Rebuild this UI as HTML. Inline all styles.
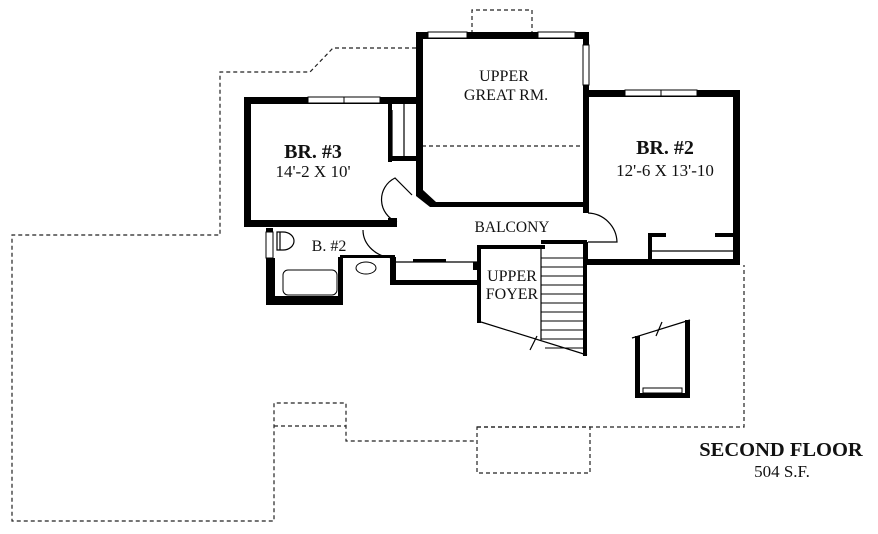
<!DOCTYPE html>
<html><head><meta charset="utf-8"><style>
html,body{margin:0;padding:0;background:#fff;}
svg{display:block;}
text{font-family:"Liberation Serif",serif;fill:#111;}
</style></head><body>
<svg width="878" height="534" viewBox="0 0 878 534" xmlns="http://www.w3.org/2000/svg">
<g fill="none" stroke="#222" stroke-width="1.2" stroke-dasharray="4,3">
<polyline points="416,48 333,48 310,72 220,72 220,235 12,235 12,521 274,521 274,403 346,403 346,441 477,441"/>
<line x1="274" y1="426" x2="346" y2="426"/>
<polyline points="477,427 744,427 744,265"/>
<rect x="477" y="427" width="113" height="46"/>
<polyline points="472,34 472,10 532,10 532,34"/>
<line x1="422" y1="146" x2="583" y2="146"/>
</g>
<g fill="#000">
<rect x="416" y="32" width="7" height="163"/>
<rect x="416" y="32" width="172" height="7"/>
<rect x="583" y="32" width="6" height="181"/>
<rect x="432" y="202" width="156" height="5"/>
<polygon points="416,190 423,190 436,202 436,207 430,207 416,196"/>
<rect x="244" y="97" width="7" height="130"/>
<rect x="244" y="97" width="172" height="7"/>
<rect x="244" y="220" width="153" height="7"/>
<rect x="388" y="104" width="4" height="58"/>
<rect x="388" y="156" width="28" height="5"/>
<rect x="583" y="90" width="157" height="7"/>
<rect x="733" y="90" width="7" height="175"/>
<rect x="583" y="259" width="157" height="6"/>
<rect x="583" y="242" width="5" height="23"/>
<rect x="648" y="233" width="4" height="27"/>
<rect x="648" y="233" width="18" height="4"/>
<rect x="715" y="233" width="18" height="4"/>
<rect x="541" y="240" width="42" height="4"/>
<rect x="477" y="245" width="4" height="78"/>
<rect x="477" y="245" width="68" height="4"/>
<rect x="583" y="240" width="4" height="116"/>
<rect x="266" y="228" width="7" height="30"/>
<rect x="266" y="258" width="9" height="47"/>
<rect x="266" y="296" width="76" height="9"/>
<rect x="338" y="257" width="5" height="48"/>
<rect x="390" y="257" width="6" height="25"/>
<rect x="390" y="280" width="87" height="5"/>
<rect x="340" y="255" width="55" height="3"/>
<rect x="473" y="262" width="8" height="8"/>
<rect x="413" y="259" width="33" height="3"/>
<rect x="388" y="218" width="9" height="9"/>
<rect x="635" y="336" width="5" height="62"/>
<rect x="685" y="320" width="5" height="78"/>
<rect x="635" y="393" width="55" height="5"/>
</g>
<g fill="#fff" stroke="#000" stroke-width="1">
<rect x="308" y="97" width="72" height="6"/><line x1="344" y1="97" x2="344" y2="103"/>
<rect x="428" y="32" width="39" height="6"/>
<rect x="538" y="32" width="37" height="6"/>
<rect x="583" y="45" width="6" height="40"/>
<rect x="625" y="90" width="72" height="6"/><line x1="661" y1="90" x2="661" y2="96"/>
<rect x="283" y="270" width="54" height="25" rx="5"/>
<ellipse cx="366" cy="268" rx="10" ry="6"/>
<rect x="266" y="232" width="7" height="26"/>
<rect x="643" y="388" width="39" height="5"/>
</g>
<g fill="none" stroke="#000" stroke-width="1.2">
<path d="M277,232 L283,232 A11,9 0 0 1 283,250 L277,250 Z"/>
<line x1="280" y1="232" x2="280" y2="250"/>
<path d="M397,222 A24,24 0 0 1 395,178 L412,195"/>
<path d="M363,230 A32,28 0 0 0 394,258"/>
<path d="M588,213 A30,30 0 0 1 617,242 L588,242"/>
<line x1="395" y1="262" x2="477" y2="262"/>
<line x1="652" y1="251" x2="733" y2="251"/>
<polyline points="481,322 587,355"/>
<line x1="541" y1="249" x2="541" y2="340"/>
<line x1="632" y1="338" x2="690" y2="320"/>
<line x1="656" y1="336" x2="662" y2="322"/>
<line x1="530" y1="350" x2="537" y2="336"/>
<line x1="392" y1="110" x2="392" y2="156"/><line x1="404" y1="104" x2="404" y2="156"/>
</g>
<g stroke="#000" stroke-width="1">
<line x1="541" y1="258" x2="583" y2="258"/><line x1="541" y1="267" x2="583" y2="267"/>
<line x1="541" y1="276" x2="583" y2="276"/><line x1="541" y1="285" x2="583" y2="285"/>
<line x1="541" y1="294" x2="583" y2="294"/><line x1="541" y1="303" x2="583" y2="303"/>
<line x1="541" y1="312" x2="583" y2="312"/><line x1="541" y1="321" x2="583" y2="321"/>
<line x1="541" y1="330" x2="583" y2="330"/><line x1="541" y1="339" x2="583" y2="339"/>
<line x1="545" y1="348" x2="583" y2="348"/>
</g>
<g text-anchor="middle">
<text x="504" y="81" font-size="16">UPPER</text>
<text x="506" y="100" font-size="16">GREAT RM.</text>
<text x="313" y="158" font-size="20" font-weight="bold">BR. #3</text>
<text x="313" y="177" font-size="17">14'-2 X 10'</text>
<text x="665" y="154" font-size="20" font-weight="bold">BR. #2</text>
<text x="665" y="176" font-size="17">12'-6 X 13'-10</text>
<text x="512" y="232" font-size="15.5">BALCONY</text>
<text x="329" y="251" font-size="16">B. #2</text>
<text x="512" y="281" font-size="16">UPPER</text>
<text x="512" y="299" font-size="16">FOYER</text>
<text x="781" y="456" font-size="20.5" font-weight="bold">SECOND FLOOR</text>
<text x="782" y="477" font-size="17">504 S.F.</text>
</g>
</svg>
</body></html>
